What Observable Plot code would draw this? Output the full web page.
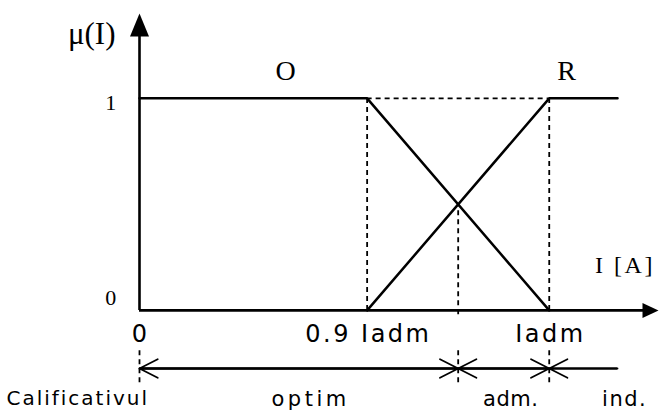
<!DOCTYPE html>
<html>
<head>
<meta charset="utf-8">
<script src="https://cdn.jsdelivr.net/npm/d3@7"></script>
<script src="https://cdn.jsdelivr.net/npm/@observablehq/plot@0.6"></script>
<style>
  body { margin: 0; background: #fff; }
  #chart svg { display: block; background: #fff; }
</style>
</head>
<body>
<div id="chart"></div>
<script>
// Schematic current axis: 0 → 0, 0.9·Iadm → 5, Iadm → 9 (not to scale)
const currentBreaks = [0, 5, 9];
const currentTickLabels = ["0", "0.9 Iadm", "Iadm"];

// Membership values μ(I)
const muTicks = [0, 1];
const muTickLabels = ["0", "1"];

// "O" (optimal) membership function
const optimX = [0, 5, 9];
const optimMu = [1, 1, 0];

// "R" membership function
const riskX = [5, 9, 10.5];
const riskMu = [0, 1, 1];

// Qualification zones along the current axis
const zoneBounds = [0, 7, 9, 10.5];
const zoneLabels = ["optim", "adm.", "ind."];

// Axis extents (arrow tips)
const xAxisEnd = 11.4;
const yAxisEnd = 1.4;

// Layout of the annotation row below the axis (data units)
const rowArrowY = -0.274;
const rowTick = [-0.19, -0.355];
const tickLabelY = -0.112;
const zoneLabelY = -0.418;
const zoneLabelX = [3.72, 8.15, 10.64];

// Crossing point of the two membership lines
const crossX = (() => {
  const s1 = (optimMu[2] - optimMu[1]) / (optimX[2] - optimX[1]);
  const s2 = (riskMu[1] - riskMu[0]) / (riskX[1] - riskX[0]);
  return (riskMu[0] - s2 * riskX[0] - optimMu[1] + s1 * optimX[1]) / (s1 - s2);
})();
const crossMu = optimMu[1] + (crossX - optimX[1]) * (optimMu[2] - optimMu[1]) / (optimX[2] - optimX[1]);

const optimLine = optimX.map((x, i) => ({x, mu: optimMu[i]}));
const riskLine = riskX.map((x, i) => ({x, mu: riskMu[i]}));

// Double-headed arrows between zone bounds; last zone only points back
const zoneArrows = [];
zoneBounds.slice(0, -1).forEach((a, i) => {
  const b = zoneBounds[i + 1];
  if (i < zoneBounds.length - 2) zoneArrows.push({x1: a, x2: b});
  zoneArrows.push({x1: b, x2: a});
});

// Filled arrowheads for the axes
const headUp = {draw(ctx) { ctx.moveTo(0, 0); ctx.lineTo(9.5, 23); ctx.lineTo(-9.5, 23); ctx.closePath(); }};
const headRight = {draw(ctx) { ctx.moveTo(0, 0); ctx.lineTo(-16, 7.5); ctx.lineTo(-16, -7.5); ctx.closePath(); }};

const serif = "'Liberation Serif', 'Times New Roman', serif";
const sans = "'DejaVu Sans', sans-serif";
const dash = {stroke: "#000", strokeWidth: 1.8, strokeDasharray: "5,4"};

const chart = Plot.plot({
  width: 659,
  height: 410,
  marginTop: 13,
  marginBottom: 0,
  marginLeft: 139,
  marginRight: 1,
  x: {domain: [0, xAxisEnd], axis: null},
  y: {domain: [-0.472, yAxisEnd], axis: null},
  marks: [
    // dashed guides
    Plot.ruleX([currentBreaks[1], currentBreaks[2]], {y1: 0, y2: 1, ...dash}),
    Plot.ruleX([crossX], {y1: -0.02, y2: crossMu, ...dash}),
    Plot.ruleY([1], {x1: currentBreaks[1], x2: currentBreaks[2], ...dash}),
    Plot.ruleX([zoneBounds[0], zoneBounds[1], zoneBounds[2]], {y1: rowTick[0], y2: rowTick[1], ...dash}),

    // axes
    Plot.ruleX([0], {y1: 0, y2: yAxisEnd - 0.1, stroke: "#000", strokeWidth: 2.6}),
    Plot.ruleY([0], {x1: 0, x2: xAxisEnd - 0.3, stroke: "#000", strokeWidth: 2.6}),
    Plot.dot([{x: 0, mu: yAxisEnd}], {x: "x", y: "mu", symbol: headUp, fill: "#000", stroke: null}),
    Plot.dot([{x: xAxisEnd, mu: 0}], {x: "x", y: "mu", symbol: headRight, fill: "#000", stroke: null}),

    // membership functions
    Plot.line(optimLine, {x: "x", y: "mu", stroke: "#000", strokeWidth: 2.5}),
    Plot.line(riskLine, {x: "x", y: "mu", stroke: "#000", strokeWidth: 2.5}),

    // qualification row
    Plot.ruleY([rowArrowY], {x1: zoneBounds[0], x2: zoneBounds[zoneBounds.length - 1], stroke: "#000", strokeWidth: 1.8}),
    Plot.arrow(zoneArrows, {x1: "x1", x2: "x2", y1: rowArrowY, y2: rowArrowY, stroke: "#000", strokeWidth: 1.8, headLength: 17, headAngle: 54}),

    // labels
    Plot.text(["μ(I)"], {x: -1.05, y: 1.305, text: d => d, fontSize: 31, fontFamily: serif, fill: "#000"}),
    Plot.text(["O"], {x: 3.21, y: 1.13, text: d => d, fontSize: 28, fontFamily: serif, fill: "#000"}),
    Plot.text(["R"], {x: 9.38, y: 1.13, text: d => d, fontSize: 28, fontFamily: serif, fill: "#000"}),
    Plot.text(muTicks, {x: -0.63, y: d => d === 1 ? 0.976 : 0.061, text: (d, i) => muTickLabels[i], fontSize: 22, fontFamily: serif, fill: "#000"}),
    Plot.text(["I [A]"], {x: 9.98, y: 0.212, text: d => d, textAnchor: "start", fontSize: 24, fontFamily: serif, fill: "#000"}),
    Plot.text(currentBreaks, {x: d => d, y: tickLabelY, text: (d, i) => currentTickLabels[i], fontSize: 24, fontFamily: sans, fill: "#000"}),
    Plot.text(["Calificativul"], {x: -2.945, y: zoneLabelY, text: d => d, textAnchor: "start", fontSize: 20, fontFamily: sans, fill: "#000"}),
    Plot.text(zoneLabels, {x: (d, i) => zoneLabelX[i], y: zoneLabelY, text: d => d, fontSize: 21, fontFamily: sans, fill: "#000"})
  ]
});

// letter spacing of the typeset labels
const spacing = {
  "0.9 Iadm": 2.5, "Iadm": 2.5,
  "Calificativul": 2, "optim": 3.5, "adm.": 0.5, "ind.": 1.5,
  "I [A]": 2.5
};
d3.select(chart).selectAll("text").each(function() {
  const s = spacing[this.textContent];
  if (s) {
    this.style.letterSpacing = s + "px";
    // keep centred labels centred despite the trailing spacing
    if (getComputedStyle(this).textAnchor !== "start") {
      const dx = parseFloat(this.getAttribute("dx") || 0);
      this.setAttribute("dx", dx + s / 2);
    }
  }
});

document.getElementById("chart").append(chart);
</script>
</body>
</html>
